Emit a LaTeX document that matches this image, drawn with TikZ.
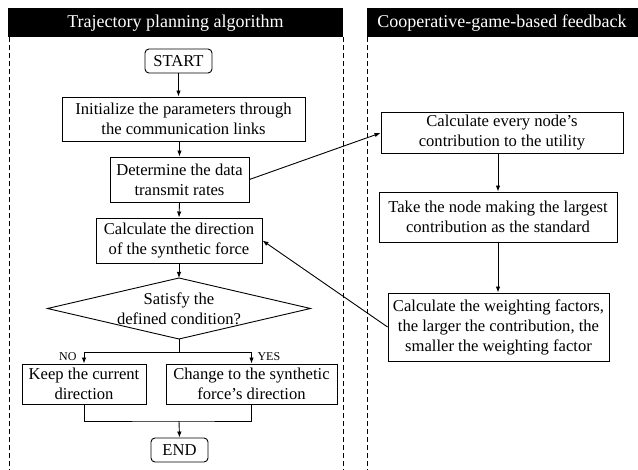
\documentclass[tikz,border=0pt]{standalone}
\usepackage{fontspec}
\setmainfont{Liberation Serif}
\usetikzlibrary{arrows.meta}

\begin{document}
\begin{tikzpicture}[x=1pt, y=-1pt,
    box/.style={draw, line width=0.9pt, align=center, inner sep=0pt,
        font=\fontsize{16.6}{20}\selectfont},
    term/.style={box, rounded corners=4pt},
    flow/.style={-{Latex[length=6pt,width=4.5pt]}, line width=0.9pt},
    link/.style={line width=0.9pt}]
    \useasboundingbox (0,0) rectangle (638,470);

    % Column heads
    \fill (8,8) rectangle (343,37);
    \fill (367,8) rectangle (638,37);
    \node[text=white, font=\fontsize{18}{22}\selectfont] (headleft) at (175.5,23) {Trajectory planning algorithm};
    \node[text=white, font=\fontsize{18}{22}\selectfont] (headright) at (502,23) {Cooperative-game-based feedback};

    % Column borders
    \foreach \x in {9,343,367} {
        \draw[line width=0.7pt, dash pattern=on 5pt off 3pt] (\x,37) -- (\x,470);
    }

    % Planning steps
    \node[term, minimum width=67pt, minimum height=24pt] (start) at (178.5,61) {START};
    \node[box, minimum width=243pt, minimum height=44pt] (init) at (183.5,119) {Initialize the parameters through\\the communication links};
    \node[box, minimum width=139pt, minimum height=45pt] (determine) at (179.5,179.5) {Determine the data\\transmit rates};
    \node[box, minimum width=166pt, minimum height=45pt] (calcdir) at (179,240.5) {Calculate the direction\\of the synthetic force};

    % Condition
    \node[align=center, font=\fontsize{16.6}{20}\selectfont] (cond) at (179,308.5) {Satisfy the\\defined condition?};
    \coordinate (condtop) at (179,278);
    \coordinate (condbottom) at (179,339);
    \draw[link] (condtop) -- (310.5,308.5) -- (condbottom) -- (47.5,308.5) -- cycle;

    \node[box, minimum width=124pt, minimum height=40pt] (keep) at (84,384) {Keep the current\\direction};
    \node[box, minimum width=171pt, minimum height=40pt] (change) at (251.5,384) {Change to the synthetic\\force's direction};
    \node[term, minimum width=57pt, minimum height=24pt] (end) at (179.5,450) {END};

    \node[anchor=east, font=\fontsize{12}{14}\selectfont] (no) at (80,357) {NO};
    \node[anchor=west, font=\fontsize{12}{14}\selectfont] (yes) at (254,357) {YES};

    % Feedback steps
    \node[box, minimum width=242pt, minimum height=41pt] (every) at (502,133) {Calculate every node's\\contribution to the utility};
    \node[box, minimum width=238pt, minimum height=50pt] (take) at (498,217) {Take the node making the largest\\contribution as the standard};
    \node[box, minimum width=221pt, minimum height=68pt] (weigh) at (498.5,327) {Calculate the weighting factors,\\the larger the contribution, the\\smaller the weighting factor};

    % Arrows
    \draw[flow] (start.south) -- (start.south |- init.north);
    \draw[flow] (init.south -| determine) -- (determine.north);
    \draw[flow] (determine.south) -- (calcdir.north);
    \draw[flow] (calcdir.south) -- (condtop);
    \draw[link] (condbottom) -- ++(0,13) coordinate (split);
    \draw[flow] (split) -| (keep.north);
    \draw[flow] (split) -| (change.north);
    \coordinate (merge) at (179,421);
    \draw[link] (keep.south) |- (merge) -| (change.south);
    \draw[flow] (merge) -- (end.north);

    \draw[flow] (determine.east) -- (every.west);
    \draw[flow] (every.south -| take) -- (take.north);
    \draw[flow] (take.south) -- (weigh.north -| take);
    \draw[flow] (weigh.west) -- (calcdir.east);
\end{tikzpicture}
\end{document}
